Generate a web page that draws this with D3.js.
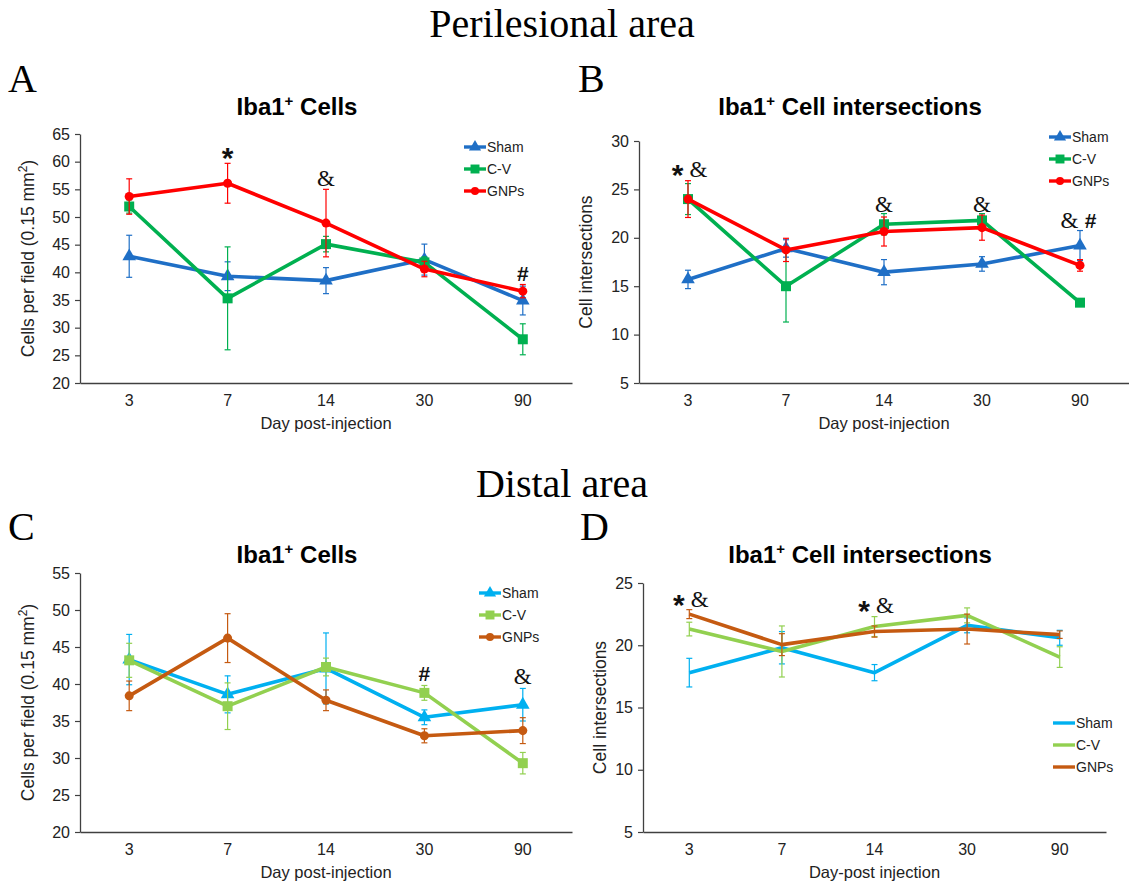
<!DOCTYPE html>
<html>
<head>
<meta charset="utf-8">
<script src="https://cdn.jsdelivr.net/npm/d3@7"></script>
<style>
  body { margin: 0; background: #fff; }
  text { font-family: "Liberation Sans", Arial, sans-serif; }
</style>
</head>
<body>
<script>
const days = ["3", "7", "14", "30", "90"];
const groups = ["Sham", "C-V", "GNPs"];

// A - perilesional, Iba1+ cells
const periCellsSham = [42.9, 39.3, 38.5, 42.3, 34.9];
const periCellsShamErr = [3.8, 2.6, 2.35, 2.8, 2.6];
const periCellsCV = [51.9, 35.3, 45.1, 41.8, 27.9];
const periCellsCVErr = [1.2, 9.3, 1.4, 1.0, 2.8];
const periCellsGNP = [53.7, 56.1, 48.9, 40.6, 36.6];
const periCellsGNPErr = [3.2, 3.6, 6.1, 1.4, 1.2];
const periCellsMarks = ["", "*", "&", "", "#"];
const periCellsMarkAt = [0, 61.6, 57, 0, 39.8];

// B - perilesional, intersections
const periInterSham = [15.7, 18.9, 16.45, 17.3, 19.2];
const periInterShamErr = [0.95, 0.9, 1.3, 0.75, 1.55];
const periInterCV = [24.0, 15.0, 21.4, 21.8, 13.3];
const periInterCVErr = [1.6, 3.7, 1.1, 0.7, 0.3];
const periInterGNP = [24.0, 18.75, 20.65, 21.05, 17.15];
const periInterGNPErr = [1.9, 1.2, 1.5, 1.3, 0.6];
const periInterMarks = ["* &", "", "&", "&", "& #"];
const periInterMarkAt = [27.1, 0, 23.5, 23.5, 21.8];

// C - distal, Iba1+ cells
const distCellsSham = [43.3, 38.6, 42.1, 35.5, 37.2];
const distCellsShamErr = [3.4, 2.5, 4.8, 1.0, 2.2];
const distCellsCV = [43.2, 37.0, 42.3, 38.8, 29.3];
const distCellsCVErr = [2.3, 3.15, 1.2, 1.0, 1.45];
const distCellsGNP = [38.4, 46.2, 37.8, 33.0, 33.7];
const distCellsGNPErr = [2.0, 3.3, 1.4, 0.95, 1.75];
const distCellsMarks = ["", "", "", "#", "&"];
const distCellsMarkAt = [0, 0, 0, 41.4, 41.1];

// D - distal, intersections
const distInterSham = [17.8, 19.8, 17.8, 21.6, 20.6];
const distInterShamErr = [1.15, 1.3, 0.65, 0.6, 0.6];
const distInterCV = [21.3, 19.5, 21.5, 22.4, 19.05];
const distInterCVErr = [0.55, 2.05, 0.8, 0.6, 0.83];
const distInterGNP = [22.5, 20.05, 21.1, 21.3, 20.85];
const distInterGNPErr = [0.36, 0.88, 0.45, 1.2, 0.3];
const distInterMarks = ["* &", "", "* &", "", ""];
const distInterMarkAt = [23.7, 0, 23.2, 0, 0];

const periColors = ["#1f6fc6", "#00b050", "#ff0000"];
const distColors = ["#00b0f0", "#92d050", "#c55a11"];

const w = 1129;
const h = 888;

const svg = d3.select("body")
  .append("svg")
  .attr("width", w)
  .attr("height", h);

// section headings
svg.append("text")
  .attr("x", 562).attr("y", 37)
  .attr("text-anchor", "middle")
  .style("font-family", "Liberation Serif, Times New Roman, serif")
  .style("font-size", "40px")
  .text("Perilesional area");

svg.append("text")
  .attr("x", 562).attr("y", 497)
  .attr("text-anchor", "middle")
  .style("font-family", "Liberation Serif, Times New Roman, serif")
  .style("font-size", "40px")
  .text("Distal area");

const panels = [
  {
    letter: "A", lx: 8, ly: 92, title: "Cells", tx: 297, ty: 115,
    x0: 80, x1: 572, yTop: 134, yBottom: 383, domain: [20, 65], step: 5,
    ytitle: "cells", ytx: 28, xtitle: "Day post-injection",
    colors: periColors, markers: true,
    series: [periCellsSham, periCellsCV, periCellsGNP],
    errs: [periCellsShamErr, periCellsCVErr, periCellsGNPErr],
    marks: periCellsMarks, markAt: periCellsMarkAt,
    legX: 464, legY: 147
  },
  {
    letter: "B", lx: 578, ly: 92, title: "Cell intersections", tx: 850, ty: 115,
    x0: 639, x1: 1129, yTop: 141, yBottom: 383, domain: [5, 30], step: 5,
    ytitle: "Cell intersections", ytx: 586, xtitle: "Day post-injection",
    colors: periColors, markers: true,
    series: [periInterSham, periInterCV, periInterGNP],
    errs: [periInterShamErr, periInterCVErr, periInterGNPErr],
    marks: periInterMarks, markAt: periInterMarkAt,
    legX: 1049, legY: 137
  },
  {
    letter: "C", lx: 8, ly: 540, title: "Cells", tx: 297, ty: 563,
    x0: 80, x1: 572, yTop: 573, yBottom: 832, domain: [20, 55], step: 5,
    ytitle: "cells", ytx: 28, xtitle: "Day post-injection",
    colors: distColors, markers: true,
    series: [distCellsSham, distCellsCV, distCellsGNP],
    errs: [distCellsShamErr, distCellsCVErr, distCellsGNPErr],
    marks: distCellsMarks, markAt: distCellsMarkAt,
    legX: 479, legY: 593
  },
  {
    letter: "D", lx: 580, ly: 540, title: "Cell intersections", tx: 860, ty: 563,
    x0: 643, x1: 1106, yTop: 583, yBottom: 832, domain: [5, 25], step: 5,
    ytitle: "Cell intersections", ytx: 600, xtitle: "Day-post injection",
    colors: distColors, markers: false,
    series: [distInterSham, distInterCV, distInterGNP],
    errs: [distInterShamErr, distInterCVErr, distInterGNPErr],
    marks: distInterMarks, markAt: distInterMarkAt,
    legX: 1053, legY: 723
  }
];

const symbols = [d3.symbolTriangle, d3.symbolSquare, d3.symbolCircle];
const symbolSizes = [80, 100, 64];

panels.forEach((p) => {
  const g = svg.append("g");

  const x = d3.scaleBand().domain(days).range([p.x0, p.x1]);
  const cx = (d) => x(d) + x.bandwidth() / 2;
  const y = d3.scaleLinear().domain(p.domain).range([p.yBottom, p.yTop]);

  // panel letter
  g.append("text")
    .attr("x", p.lx).attr("y", p.ly)
    .style("font-family", "Liberation Serif, Times New Roman, serif")
    .style("font-size", "40px")
    .text(p.letter);

  // chart title with superscript +
  const t = g.append("text")
    .attr("x", p.tx).attr("y", p.ty)
    .attr("text-anchor", "middle")
    .style("font-size", "24px")
    .style("font-weight", "bold");
  t.append("tspan").text("Iba1");
  t.append("tspan").attr("dy", -9).style("font-size", "15px").text("+");
  t.append("tspan").attr("dy", 9).text(" " + p.title);

  // axes
  const ticks = d3.range(p.domain[0], p.domain[1] + 0.1, p.step);
  const yAxis = g.append("g")
    .attr("transform", `translate(${p.x0},0)`)
    .call(d3.axisLeft(y).tickValues(ticks).tickSize(5).tickSizeOuter(0).tickPadding(5));
  yAxis.selectAll("text").style("font-size", "16px").attr("fill", "#222")
    .style("font-family", "Liberation Sans, Arial, sans-serif");

  const xAxis = g.append("g")
    .attr("transform", `translate(0,${p.yBottom})`)
    .call(d3.axisBottom(x).tickSize(0).tickPadding(12));
  xAxis.selectAll("text").style("font-size", "16px").attr("fill", "#222")
    .style("font-family", "Liberation Sans, Arial, sans-serif");

  [yAxis, xAxis].forEach((a) => {
    a.select(".domain").attr("stroke", "#404040").attr("stroke-width", 1.3);
    a.selectAll(".tick line").attr("stroke", "#404040").attr("stroke-width", 1.2);
  });

  // axis titles
  g.append("text")
    .attr("x", (p.x0 + p.x1) / 2).attr("y", p.yBottom + 46)
    .attr("text-anchor", "middle")
    .style("font-size", "16.5px")
    .attr("fill", "#222")
    .text(p.xtitle);

  const yt = g.append("text")
    .attr("transform", `translate(${p.ytx},${(p.yTop + p.yBottom) / 2}) rotate(-90)`)
    .attr("text-anchor", "middle")
    .attr("dy", "0.35em")
    .style("font-size", "17.5px")
    .attr("fill", "#222");
  if (p.ytitle === "cells") {
    yt.append("tspan").text("Cells per field (0.15 mm");
    yt.append("tspan").attr("dy", -7).style("font-size", "12px").text("2");
    yt.append("tspan").attr("dy", 7).text(")");
  } else {
    yt.text(p.ytitle);
  }

  // series
  p.series.forEach((vals, si) => {
    const col = p.colors[si];
    const pts = days.map((d, i) => ({ day: d, v: vals[i], e: p.errs[si][i] }));

    const eb = g.append("g").attr("stroke", col).attr("stroke-width", 1.2);
    pts.forEach((d) => {
      const xx = cx(d.day);
      eb.append("line").attr("x1", xx).attr("x2", xx)
        .attr("y1", y(d.v - d.e)).attr("y2", y(d.v + d.e));
      eb.append("line").attr("x1", xx - 3).attr("x2", xx + 3)
        .attr("y1", y(d.v - d.e)).attr("y2", y(d.v - d.e));
      eb.append("line").attr("x1", xx - 3).attr("x2", xx + 3)
        .attr("y1", y(d.v + d.e)).attr("y2", y(d.v + d.e));
    });

    g.append("path")
      .datum(pts)
      .attr("fill", "none")
      .attr("stroke", col)
      .attr("stroke-width", 3.6)
      .attr("stroke-linejoin", "round")
      .attr("d", d3.line().x((d) => cx(d.day)).y((d) => y(d.v)));

    if (p.markers) {
      g.selectAll(null)
        .data(pts)
        .enter()
        .append("path")
        .attr("transform", (d) => `translate(${cx(d.day)},${y(d.v)})`)
        .attr("d", d3.symbol().type(symbols[si]).size(symbolSizes[si]))
        .attr("fill", col);
    }

    // legend entry
    const ly = p.legY + si * 22;
    g.append("line")
      .attr("x1", p.legX).attr("x2", p.legX + 22)
      .attr("y1", ly).attr("y2", ly)
      .attr("stroke", col).attr("stroke-width", 3.4);
    if (p.markers) {
      g.append("path")
        .attr("transform", `translate(${p.legX + 11},${ly})`)
        .attr("d", d3.symbol().type(symbols[si]).size(symbolSizes[si] * 0.8))
        .attr("fill", col);
    }
    g.append("text")
      .attr("x", p.legX + 23).attr("y", ly)
      .attr("dy", "0.36em")
      .style("font-size", "14px")
      .attr("fill", "#222")
      .text(groups[si]);
  });

  // significance marks, one glyph at a time, centred on the value
  days.forEach((d, i) => {
    if (!p.marks[i]) return;
    const glyphs = p.marks[i].split(" ");
    glyphs.forEach((s, k) => {
      const off = (k - (glyphs.length - 1) / 2) * 21;
      const m = g.append("text")
        .attr("x", cx(d) + off).attr("y", y(p.markAt[i]))
        .attr("text-anchor", "middle")
        .attr("fill", "#111")
        .text(s);
      if (s === "*") {
        m.attr("dy", "0.52em").style("font-size", "30px").style("font-weight", "bold");
      } else if (s === "#") {
        m.attr("dy", "0.36em").style("font-size", "21px").style("font-weight", "bold");
      } else {
        m.attr("dy", "0.35em").style("font-size", "23px")
          .style("font-family", "Liberation Serif, Times New Roman, serif");
      }
    });
  });
});
</script>
</body>
</html>
